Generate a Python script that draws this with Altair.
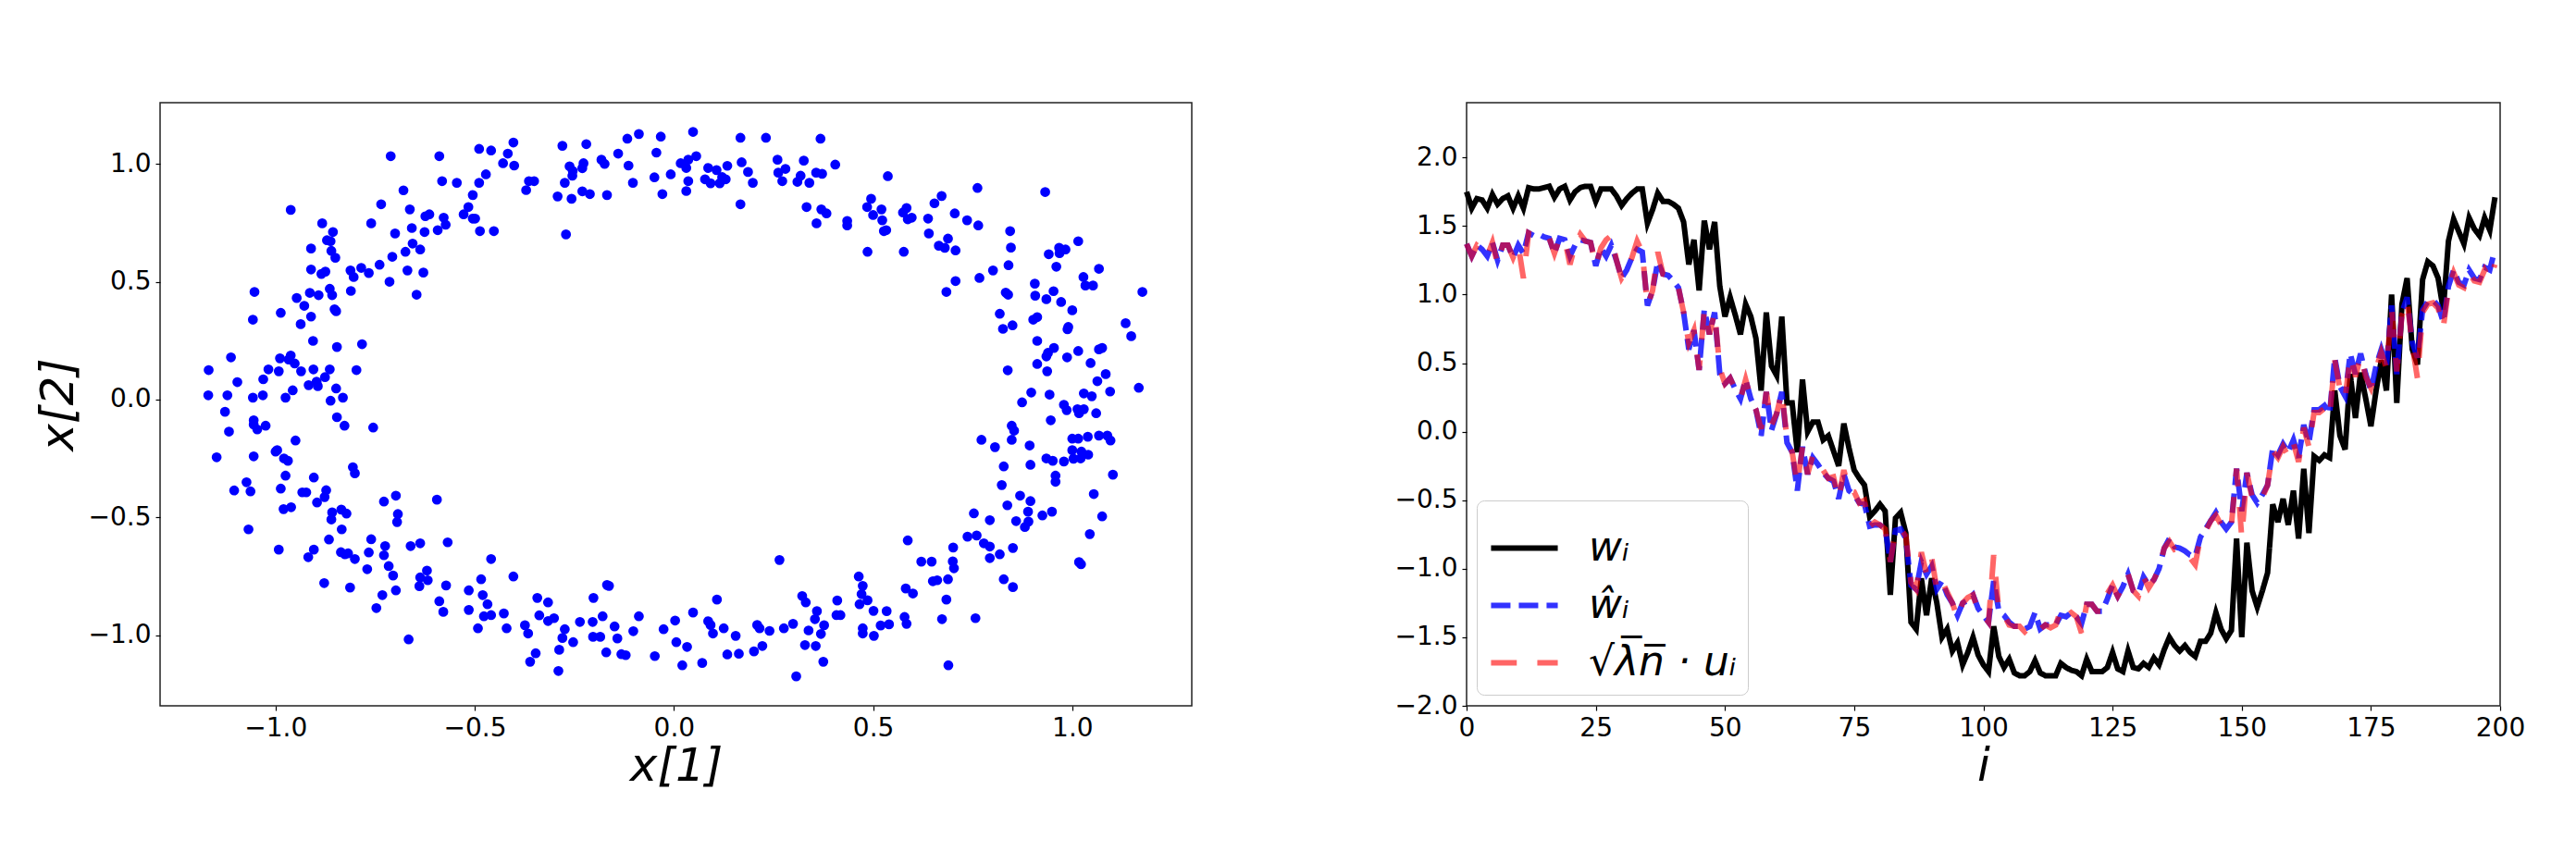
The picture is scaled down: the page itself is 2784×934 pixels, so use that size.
import altair as alt
import pandas as pd

# ---------------- left panel: scatter of x[1], x[2] ----------------
x1 = [
    -0.088, -0.033, -0.117, -0.220, -0.280, -0.403, -0.489, -0.459, -0.417, -0.140,
    -0.044, -0.182, -0.174, -0.227, -0.262, -0.254, -0.230, -0.255, -0.114,
    -0.008, -0.429, -0.401, -0.472, -0.589, -0.711, -0.582, -0.545, -0.489, -0.364,
    -0.351, -0.371, -0.274, -0.103, -0.049, -0.292, -0.257, -0.230, -0.211, -0.168,
    -0.029, -0.505, -0.679, -0.735, -0.663, -0.516, -0.528, -0.505, -0.499, -0.578,
    -0.573, -0.593, -0.624, -0.614, -0.626, -0.658, -0.700, -0.487, -0.452, -0.271,
    -0.760, -0.883, -0.856, -0.871, -0.862, -0.860, -0.850, -0.911, -0.962, -0.911,
    -0.885, -0.875, -0.812, -0.804, -0.785, -0.766, -0.739, -0.707, -0.674, -0.656,
    -0.637, -0.669, -0.629, -0.714, -0.646, -0.811, -0.864, -0.858, -0.892, -0.914,
    -0.947, -0.928, -1.053, -0.987, -1.057, -0.937, -0.911, -0.852, -0.848, -0.906,
    -0.846, -0.783, -1.112, -1.168, -1.096, -1.031, -1.018, -0.992, -0.989, -0.962,
    -0.967, -0.952, -0.936, -0.905, -0.864, -0.876, -0.917, -0.897, -0.894, -0.797,
    -0.848, -0.831, -0.862, -1.169, -1.121, -1.057, -1.032, -0.975, -0.957,
    0.048, 0.167, 0.231, 0.368, 0.017, 0.036, 0.056, 0.031, 0.036, 0.031,
    0.086, 0.107, 0.134, 0.078, 0.092, 0.115, 0.121, 0.130, 0.170, 0.186,
    0.198, 0.167, 0.260, 0.280, 0.262, 0.272, 0.326, 0.318, 0.310, 0.340,
    0.357, 0.372, 0.405, 0.333, 0.370, 0.383, 0.358, 0.435, 0.435, 0.537,
    0.495, 0.485, 0.500, 0.521, 0.523, 0.527, 0.533, 0.486, 0.577, 0.575,
    0.584, 0.597, 0.587, 0.638, 0.640, 0.654, 0.672, 0.705, 0.736, 0.764,
    0.762, 0.932, 0.688, 0.665, 0.680, 0.707, 0.844, 0.846, 0.840, 0.801,
    0.767, 0.707, 0.684, 0.941, 0.967, 0.983, 0.968, 1.015, 0.960, 1.067,
    1.028, 1.033, 1.052, 1.176, 0.906, 0.907, 0.953, 0.935, 0.972, 1.000,
    0.833, 0.839, 0.818, 0.826, 0.850, 0.902, 0.912, 0.990, 0.988, 1.134,
    1.148, 0.912, 0.954, 0.939, 0.935, 0.987, 1.015, 1.067, 1.075, 1.046,
    0.912, 0.937, 0.838, 1.084, 1.063, 1.167, 0.897, 0.943, 1.029, 1.049,
    1.095,
    -1.127, -1.117, -1.055, -1.055, -1.046, -1.025, -1.148, -1.055, -0.950, -1.000,
    -0.996, -0.979, -0.969, -0.846, -0.827, -0.755, -0.806, -0.801, -0.904, -0.975,
    -1.073, -1.104, -1.063, -0.987, -0.933, -0.923, -0.873, -0.877, -0.896, -0.980,
    -0.961, -0.858, -0.860, -0.835, -0.822, -1.068, -0.834, -0.992, -0.904, -0.918,
    -0.866, -0.836, -0.818, -0.826, -0.801, -0.878, -0.813, -0.728, -0.698, -0.693,
    -0.695, -0.595, -0.760, -0.725, -0.728, -0.766, -0.770, -0.716, -0.705, -0.698,
    -0.732, -0.747, -0.661, -0.637, -0.568, -0.620, -0.637, -0.618, -0.639, -0.572,
    -0.589, -0.579, -0.666, -0.459, -0.403, -0.484, -0.515, -0.480, -0.468, -0.515,
    -0.477, -0.459, -0.427, -0.492, -0.420, -0.374, -0.366, -0.343, -0.316, -0.338,
    -0.316, -0.301, -0.274, -0.280, -0.253, -0.288, -0.347, -0.361, -0.290, -0.236,
    -0.202, -0.168, -0.163, -0.179, -0.204, -0.149, -0.203, -0.185, -0.142, -0.102,
    -0.088, -0.170, -0.132, -0.121, -0.048, -0.026,
    0.874, 0.979, 0.986, 1.013, 1.029, 1.017, 1.060, 0.946, 0.848, 0.854,
    0.848, 0.772, 0.806, 0.893, 0.935, 0.951, 0.979, 1.000, 1.015, 1.039,
    1.067, 1.088, 1.096, 1.000, 1.023, 1.040, 1.003, 1.021, 0.828, 0.895,
    0.958, 0.958, 1.102, 0.823, 0.869, 0.895, 0.837, 0.889, 0.925, 0.949,
    0.859, 0.890, 0.881, 0.753, 0.793, 1.054, 1.075, 1.044, 0.737, 0.760,
    0.778, 0.793, 0.851, 0.818, 0.793, 0.701, 0.700, 0.703, 0.621, 0.647,
    0.587, 1.017, 1.022, 0.828, 0.851, 0.688, 0.650, 0.661, 0.684, 0.582,
    0.600, 0.673, 0.757, 0.579, 0.584, 0.464, 0.474, 0.471, 0.486, 0.466,
    0.501, 0.534, 0.519, 0.540, 0.474, 0.474, 0.502, 0.689, 0.410, 0.408,
    0.418, 0.322, 0.331, 0.359, 0.354, 0.377, 0.338, 0.369, 0.329, 0.356,
    0.375, 0.307, 0.265, 0.276, 0.299, 0.240, 0.209, 0.215, 0.222, 0.201,
    0.163, 0.134, 0.155, 0.125, 0.098, 0.086, 0.092, 0.108, 0.048, 0.003,
    0.006, 0.033, 0.021, 0.071,
]
x2 = [
    1.127, 1.116, 1.107, 1.084, 1.077, 1.091, 1.064, 1.057, 1.044, 1.044,
    1.048, 1.018, 1.000, 1.003, 0.990, 0.970, 0.982, 0.950, 0.993,
    0.956, 1.003, 0.993, 0.956, 1.033, 1.033, 0.927, 0.920, 0.920, 0.927,
    0.927, 0.889, 0.920, 0.920, 0.943, 0.862, 0.852, 0.884, 0.872, 0.868,
    0.872, 0.868, 0.888, 0.829, 0.807, 0.817, 0.786, 0.768, 0.768, 0.772,
    0.742, 0.719, 0.778, 0.786, 0.711, 0.728, 0.705, 0.715, 0.715, 0.701,
    0.748, 0.748, 0.711, 0.676, 0.672, 0.631, 0.602, 0.641, 0.805, 0.552,
    0.533, 0.543, 0.548, 0.520, 0.559, 0.537, 0.572, 0.606, 0.627, 0.662,
    0.637, 0.548, 0.539, 0.500, 0.445, 0.461, 0.470, 0.443, 0.443, 0.453,
    0.431, 0.398, 0.457, 0.368, 0.339, 0.320, 0.352, 0.383, 0.375, 0.249,
    0.223, 0.235, 0.179, 0.125, 0.074, 0.086, 0.128, 0.120, 0.175, 0.187,
    0.170, 0.153, 0.120, 0.128, 0.128, 0.095, 0.061, 0.076, 0.057, 0.125,
    0.047, 0.008, -0.005, 0.018, 0.018, 0.008, 0.018, 0.008, 0.039,
    1.136, 1.111, 1.111, 1.107, 1.003, 1.018, 1.033, 0.983, 0.927, 0.885,
    0.983, 0.974, 0.992, 0.935, 0.918, 0.918, 0.944, 0.935, 1.007, 0.966,
    0.920, 0.829, 1.018, 0.979, 0.963, 0.927, 1.014, 0.950, 0.924, 0.920,
    0.963, 0.958, 0.997, 0.817, 0.807, 0.790, 0.748, 0.758, 0.739, 0.948,
    0.852, 0.817, 0.783, 0.807, 0.761, 0.715, 0.719, 0.627, 0.627, 0.794,
    0.813, 0.772, 0.765, 0.768, 0.705, 0.833, 0.864, 0.790, 0.761, 0.739,
    0.898, 0.881, 0.683, 0.653, 0.644, 0.633, 0.715, 0.645, 0.570, 0.548,
    0.516, 0.503, 0.457, 0.617, 0.644, 0.637, 0.621, 0.672, 0.564, 0.555,
    0.520, 0.484, 0.484, 0.457, 0.492, 0.441, 0.460, 0.426, 0.414, 0.379,
    0.454, 0.445, 0.364, 0.300, 0.315, 0.339, 0.350, 0.308, 0.298, 0.324,
    0.269, 0.249, 0.219, 0.198, 0.183, 0.179, 0.206, 0.213, 0.219, 0.155,
    0.151, 0.120, 0.124, 0.108, 0.078, 0.050, 0.030, 0.021, 0.026, 0.014,
    0.034,
    -0.052, -0.136, -0.088, -0.106, -0.127, -0.111, -0.245, -0.241, -0.174, -0.221,
    -0.215, -0.250, -0.260, -0.075, -0.111, -0.119, -0.287, -0.313, -0.331, -0.323,
    -0.351, -0.386, -0.390, -0.378, -0.394, -0.394, -0.385, -0.414, -0.437, -0.465,
    -0.457, -0.479, -0.509, -0.467, -0.484, -0.551, -0.551, -0.637, -0.637, -0.669,
    -0.594, -0.648, -0.653, -0.657, -0.677, -0.779, -0.798, -0.433, -0.408, -0.486,
    -0.520, -0.425, -0.593, -0.622, -0.661, -0.649, -0.720, -0.707, -0.747, -0.810,
    -0.830, -0.885, -0.622, -0.610, -0.606, -0.726, -0.755, -0.767, -0.792, -0.789,
    -0.856, -0.901, -1.018, -0.677, -0.751, -0.763, -0.810, -0.830, -0.869, -0.893,
    -0.920, -0.915, -0.908, -0.971, -0.971, -0.958, -0.993, -0.842, -0.861, -0.916,
    -0.940, -0.928, -0.975, -1.012, -1.030, -1.062, -1.077, -1.113, -1.152, -0.944,
    -0.842, -0.787, -0.791, -0.920, -0.944, -0.963, -1.007, -1.007, -1.014, -0.983,
    -0.920, -1.073, -1.081, -1.085, -1.089, -0.975,
    -0.012, -0.022, -0.045, -0.041, -0.041, -0.058, -0.058, -0.088, -0.111, -0.132,
    -0.171, -0.171, -0.202, -0.195, -0.250, -0.260, -0.263, -0.166, -0.166, -0.158,
    -0.153, -0.153, -0.174, -0.215, -0.221, -0.234, -0.251, -0.250, -0.284, -0.277,
    -0.323, -0.349, -0.319, -0.363, -0.408, -0.431, -0.449, -0.476, -0.492, -0.476,
    -0.516, -0.518, -0.541, -0.483, -0.512, -0.401, -0.496, -0.571, -0.582, -0.577,
    -0.610, -0.624, -0.630, -0.657, -0.673, -0.628, -0.687, -0.716, -0.688, -0.688,
    -0.598, -0.690, -0.699, -0.763, -0.796, -0.763, -0.771, -0.767, -0.849, -0.802,
    -0.823, -0.932, -0.928, -0.923, -0.952, -0.751, -0.791, -0.826, -0.852, -0.869,
    -0.897, -0.898, -0.959, -0.954, -0.971, -0.993, -1.003, -1.128, -0.853, -0.915,
    -0.915, -0.834, -0.861, -0.898, -0.932, -0.958, -0.980, -0.995, -1.042, -1.046,
    -1.113, -1.175, -0.681, -0.971, -0.952, -0.982, -0.957, -0.971, -1.046, -1.069,
    -1.079, -1.082, -1.003, -0.971, -0.993, -0.941, -0.957, -0.849, -0.904, -0.938,
    -1.030, -1.050, -1.128, -1.118,
]

# ---------------- right panel: three series over index i ----------------
w = [
    1.75, 1.63, 1.70, 1.69, 1.63, 1.73, 1.66, 1.70, 1.72, 1.63,
    1.72, 1.63, 1.78, 1.77, 1.77, 1.78, 1.79, 1.71, 1.77, 1.79,
    1.69, 1.75, 1.78, 1.79, 1.79, 1.68, 1.77, 1.77, 1.77, 1.72,
    1.65, 1.70, 1.74, 1.77, 1.77, 1.52, 1.62, 1.74, 1.68, 1.68,
    1.66, 1.63, 1.53, 1.22, 1.40, 1.03, 1.54, 1.33, 1.53, 1.06,
    0.84, 0.98, 0.85, 0.71, 0.93, 0.84, 0.68, 0.30, 0.87, 0.48,
    0.41, 0.84, 0.21, 0.21, -0.15, 0.38, 0.00, 0.07, 0.07, -0.06,
    -0.03, -0.14, -0.25, 0.06, -0.12, -0.28, -0.34, -0.39, -0.62, -0.58,
    -0.53, -0.58, -1.19, -0.63, -0.59, -0.74, -1.39, -1.44, -1.07, -1.34,
    -1.07, -1.25, -1.50, -1.44, -1.60, -1.54, -1.70, -1.61, -1.50, -1.63,
    -1.70, -1.75, -1.42, -1.64, -1.72, -1.66, -1.76, -1.78, -1.78, -1.75,
    -1.67, -1.76, -1.78, -1.78, -1.78, -1.69, -1.72, -1.74, -1.75, -1.78,
    -1.66, -1.75, -1.75, -1.75, -1.72, -1.61, -1.73, -1.75, -1.60, -1.72,
    -1.73, -1.69, -1.72, -1.65, -1.70, -1.59, -1.50, -1.56, -1.60, -1.56,
    -1.61, -1.64, -1.53, -1.53, -1.47, -1.32, -1.44, -1.51, -1.45, -0.78,
    -1.50, -0.81, -1.16, -1.28, -1.16, -1.03, -0.53, -0.66, -0.49, -0.68,
    -0.43, -0.78, -0.27, -0.74, -0.18, -0.21, -0.17, -0.19, 0.30, -0.03,
    -0.13, 0.42, 0.10, 0.43, 0.24, 0.04, 0.30, 0.52, 0.30, 1.00,
    0.21, 0.93, 1.12, 0.60, 0.49, 1.11, 1.24, 1.21, 1.12, 0.89,
    1.39, 1.55, 1.46, 1.37, 1.56, 1.48, 1.43, 1.56, 1.47, 1.71,
]
w_hat = [
    1.37, 1.28, 1.36, 1.33, 1.28, 1.38, 1.25, 1.36, 1.36, 1.27,
    1.36, 1.30, 1.45, 1.43, 1.44, 1.42, 1.41, 1.30, 1.41, 1.40,
    1.28, 1.36, 1.40, 1.39, 1.38, 1.21, 1.34, 1.28, 1.36, 1.25,
    1.12, 1.18, 1.27, 1.33, 1.31, 0.92, 1.03, 1.24, 1.15, 1.14,
    1.10, 1.05, 0.87, 0.60, 0.74, 0.45, 0.89, 0.71, 0.87, 0.42,
    0.35, 0.39, 0.31, 0.24, 0.38, 0.24, 0.16, -0.03, 0.29, 0.01,
    0.13, 0.29, -0.08, -0.15, -0.43, -0.11, -0.31, -0.19, -0.24, -0.30,
    -0.34, -0.36, -0.49, -0.31, -0.43, -0.46, -0.52, -0.53, -0.69, -0.68,
    -0.68, -0.71, -0.95, -0.72, -0.71, -0.78, -1.12, -1.15, -0.95, -1.04,
    -0.98, -1.15, -1.09, -1.19, -1.25, -1.34, -1.25, -1.23, -1.19, -1.29,
    -1.34, -1.39, -1.09, -1.31, -1.34, -1.39, -1.42, -1.42, -1.44, -1.42,
    -1.32, -1.44, -1.41, -1.41, -1.41, -1.34, -1.35, -1.32, -1.35, -1.40,
    -1.26, -1.26, -1.31, -1.31, -1.22, -1.12, -1.20, -1.13, -1.04, -1.16,
    -1.18, -1.06, -1.12, -1.08, -1.00, -0.85, -0.78, -0.84, -0.85, -0.87,
    -0.90, -0.91, -0.77, -0.71, -0.65, -0.59, -0.66, -0.71, -0.66, -0.27,
    -0.58, -0.30, -0.46, -0.52, -0.46, -0.39, -0.12, -0.17, -0.09, -0.15,
    -0.06, -0.19, 0.05, -0.08, 0.16, 0.16, 0.19, 0.13, 0.54, 0.33,
    0.26, 0.57, 0.42, 0.57, 0.42, 0.30, 0.48, 0.60, 0.48, 0.92,
    0.42, 0.87, 0.98, 0.65, 0.54, 0.89, 0.95, 0.96, 0.92, 0.80,
    1.06, 1.18, 1.09, 1.07, 1.18, 1.12, 1.11, 1.20, 1.18, 1.33,
]
u_scaled = [
    1.37, 1.28, 1.36, 1.33, 1.28, 1.38, 1.22, 1.36, 1.36, 1.27,
    1.36, 1.12, 1.45, 1.43, 1.44, 1.42, 1.41, 1.30, 1.41, 1.40,
    1.22, 1.36, 1.44, 1.39, 1.38, 1.21, 1.34, 1.40, 1.43, 1.25,
    1.12, 1.18, 1.27, 1.39, 1.31, 0.92, 1.03, 1.31, 1.15, 1.14,
    1.10, 1.05, 0.87, 0.65, 0.74, 0.45, 0.89, 0.71, 0.87, 0.46,
    0.35, 0.39, 0.31, 0.24, 0.38, 0.24, 0.16, 0.02, 0.29, 0.05,
    0.13, 0.29, -0.05, -0.15, -0.38, -0.11, -0.31, -0.17, -0.24, -0.28,
    -0.34, -0.33, -0.49, -0.28, -0.43, -0.44, -0.52, -0.50, -0.69, -0.66,
    -0.68, -0.71, -0.95, -0.72, -0.71, -0.76, -1.10, -1.15, -0.88, -1.04,
    -0.92, -1.15, -1.09, -1.17, -1.25, -1.36, -1.25, -1.21, -1.19, -1.31,
    -1.34, -1.39, -0.90, -1.31, -1.34, -1.41, -1.42, -1.42, -1.46, -1.42,
    -1.40, -1.44, -1.41, -1.43, -1.41, -1.30, -1.35, -1.32, -1.35, -1.47,
    -1.26, -1.26, -1.31, -1.31, -1.18, -1.12, -1.20, -1.13, -1.04, -1.16,
    -1.20, -1.06, -1.14, -1.08, -1.00, -0.85, -0.80, -0.86, -0.85, -0.89,
    -0.92, -0.97, -0.77, -0.73, -0.65, -0.61, -0.68, -0.73, -0.68, -0.27,
    -0.77, -0.30, -0.48, -0.52, -0.48, -0.39, -0.14, -0.19, -0.11, -0.18,
    -0.08, -0.22, 0.03, -0.11, 0.14, 0.14, 0.17, 0.11, 0.52, 0.31,
    0.24, 0.55, 0.40, 0.55, 0.40, 0.32, 0.46, 0.58, 0.46, 0.90,
    0.44, 0.85, 0.96, 0.63, 0.39, 0.87, 0.93, 0.94, 0.90, 0.76,
    1.04, 1.16, 1.07, 1.05, 1.16, 1.10, 1.09, 1.18, 1.11, 1.22,
]

series_names = ["wᵢ", "ŵᵢ", "√λ̅n̅ · uᵢ"]
left_ticks = [-1.0, -0.5, 0.0, 0.5, 1.0]
right_x_ticks = [0, 25, 50, 75, 100, 125, 150, 175, 200]
right_y_ticks = [-2.0, -1.5, -1.0, -0.5, 0.0, 0.5, 1.0, 1.5, 2.0]

FONT = "DejaVu Sans"

scatter_df = pd.DataFrame({"x1": x1, "x2": x2})
n = len(w)
idx = list(range(n))
line_df = pd.DataFrame({
    "i": idx * 3,
    "value": w + w_hat + u_scaled,
    "series": [series_names[0]] * n + [series_names[1]] * n + [series_names[2]] * n,
})

left = alt.Chart(scatter_df).mark_circle(size=115, color="#0000ff", opacity=1).encode(
    x=alt.X("x1:Q",
            scale=alt.Scale(domain=[-1.29, 1.30], nice=False, zero=False),
            axis=alt.Axis(values=left_ticks, format=".1f", title="x[1]")),
    y=alt.Y("x2:Q",
            scale=alt.Scale(domain=[-1.30, 1.26], nice=False, zero=False),
            axis=alt.Axis(values=left_ticks, format=".1f", title="x[2]",
                          minExtent=79, maxExtent=79, titlePadding=6)),
).properties(width=1115, height=652)

legend = alt.Legend(
    title=None, orient="none", legendX=11, legendY=430,
    symbolType="stroke", symbolSize=5200, symbolStrokeWidth=6,
    labelFontSize=44, labelFont=FONT, labelFontStyle="italic",
    labelOffset=30, labelLimit=500, rowPadding=0, padding=12,
    fillColor="white", strokeColor="#cccccc", cornerRadius=8,
)

right = alt.Chart(line_df).mark_line(strokeWidth=6).encode(
    x=alt.X("i:Q",
            scale=alt.Scale(domain=[0, 200], nice=False, zero=False),
            axis=alt.Axis(values=right_x_ticks, format="d", title="i")),
    y=alt.Y("value:Q",
            scale=alt.Scale(domain=[-2.0, 2.4], nice=False, zero=False),
            axis=alt.Axis(values=right_y_ticks, format=".1f", title=None,
                          minExtent=79, maxExtent=79)),
    color=alt.Color("series:N",
                    scale=alt.Scale(domain=series_names,
                                    range=["#000000", "#0000ff", "#ff0000"]),
                    legend=legend),
    strokeDash=alt.StrokeDash("series:N",
                              scale=alt.Scale(domain=series_names,
                                              range=[[1, 0], [21, 9], [27.8, 22.2]]),
                              legend=legend),
    opacity=alt.Opacity("series:N",
                        scale=alt.Scale(domain=series_names, range=[1.0, 0.6, 0.6]),
                        legend=legend),
).properties(width=1117, height=652)

chart = alt.hconcat(left, right, spacing=216).resolve_scale(
    color="independent", strokeDash="independent", opacity="independent"
).resolve_legend(
    color="independent", strokeDash="independent", opacity="independent"
).properties(
    padding={"left": 29, "top": 102, "right": 5, "bottom": 5}
).configure(font=FONT).configure_view(
    stroke="#222222", strokeWidth=1.5
).configure_axis(
    grid=False, domain=False,
    labelFont=FONT, labelFontSize=28, labelColor="black", labelPadding=5,
    labelFlush=False, labelOverlap=False,
    tickColor="black", tickSize=5, tickWidth=1.2,
    titleFont=FONT, titleFontSize=50, titleFontWeight="normal",
    titleFontStyle="italic", titleColor="black", titlePadding=2,
)

chart.save("out.html", embed_options={"renderer": "svg", "actions": False})
